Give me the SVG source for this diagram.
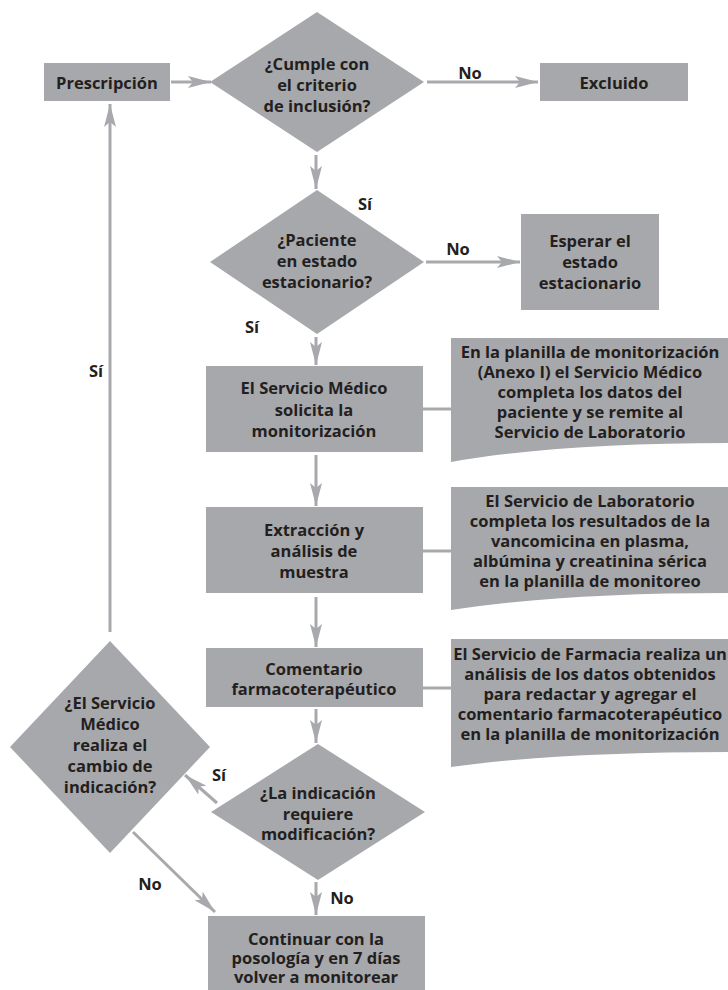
<svg xmlns="http://www.w3.org/2000/svg" width="728" height="990" viewBox="0 0 728 990">
<defs>
<style>
.shape{fill:#a7a8ab;stroke:none}
.t{font-family:"Open Sans","Noto Sans","Liberation Sans",sans-serif;font-weight:700;font-size:16.5px;fill:#231f20;text-anchor:middle;dominant-baseline:central}
.lbl{font-family:"Open Sans","Noto Sans","Liberation Sans",sans-serif;font-weight:700;font-size:16.5px;fill:#231f20;text-anchor:middle;dominant-baseline:central}
.c{stroke:#a7a9ac;stroke-width:3;fill:none}
.a{marker-end:url(#ah)}
</style>
<marker id="ah" markerUnits="userSpaceOnUse" markerWidth="24" markerHeight="12" viewBox="0 0 24 12" refX="23" refY="6" orient="auto">
<path d="M0,0 L23,6 L0,12 L5,6 Z" fill="#a7a9ac"/>
</marker>
</defs>
<rect width="728" height="990" fill="#ffffff"/>

<g id="connectors">
<line class="c a" x1="171" y1="82" x2="211" y2="82"/>
<line class="c a" x1="427" y1="82" x2="538" y2="82"/>
<line class="c a" x1="316" y1="155" x2="316" y2="189"/>
<line class="c a" x1="426" y1="262" x2="520" y2="262"/>
<line class="c a" x1="316" y1="337" x2="316" y2="365"/>
<line class="c a" x1="316" y1="455" x2="316" y2="506"/>
<line class="c a" x1="316" y1="597" x2="316" y2="647"/>
<line class="c a" x1="316" y1="709" x2="316" y2="743"/>
<line class="c a" x1="316" y1="882" x2="316" y2="915"/>
<line class="c a" x1="217" y1="803" x2="185" y2="775"/>
<line class="c a" x1="133" y1="832" x2="215" y2="912"/>
<line class="c a" x1="110" y1="632" x2="110" y2="104"/>
<line class="c" x1="423" y1="409" x2="451" y2="409"/>
<line class="c" x1="423" y1="551" x2="451" y2="551"/>
<line class="c" x1="423" y1="688" x2="451" y2="688"/>
<text class="lbl" x="470" y="72">No</text>
<text class="lbl" x="365" y="203">Sí</text>
<text class="lbl" x="458" y="248">No</text>
<text class="lbl" x="252" y="326">Sí</text>
<text class="lbl" x="96" y="370">Sí</text>
<text class="lbl" x="219" y="774">Sí</text>
<text class="lbl" x="150" y="883">No</text>
<text class="lbl" x="342" y="897">No</text>
</g>

<g id="prescripcion">
<rect class="shape" x="44" y="63" width="126" height="38"/>
<text class="t" x="107" y="82">Prescripción</text>
</g>

<g id="criterio">
<polygon class="shape" points="317,12 424,82 317,152 210,82"/>
<text class="t" x="317" y="63">¿Cumple con</text>
<text class="t" x="317" y="84">el criterio</text>
<text class="t" x="317" y="105">de inclusión?</text>
</g>

<g id="excluido">
<rect class="shape" x="540" y="63" width="148" height="38"/>
<text class="t" x="614" y="82">Excluido</text>
</g>

<g id="estacionario">
<polygon class="shape" points="317,190 424,262 317,334 210,262"/>
<text class="t" x="317" y="239">¿Paciente</text>
<text class="t" x="317" y="260">en estado</text>
<text class="t" x="317" y="281">estacionario?</text>
</g>

<g id="esperar">
<rect class="shape" x="521" y="214" width="138" height="96"/>
<text class="t" x="590" y="240">Esperar el</text>
<text class="t" x="590" y="261">estado</text>
<text class="t" x="590" y="282">estacionario</text>
</g>

<g id="solicita">
<rect class="shape" x="206" y="366" width="217" height="86"/>
<text class="t" x="314" y="387">El Servicio Médico</text>
<text class="t" x="314" y="409">solicita la</text>
<text class="t" x="314" y="430">monitorización</text>
</g>

<g id="doc1">
<path class="shape" d="M451,338 H728 V443 Q560,443 451,462 Z"/>
<text class="t" x="590" y="351">En la planilla de monitorización</text>
<text class="t" x="590" y="371">(Anexo I) el Servicio Médico</text>
<text class="t" x="590" y="391">completa los datos del</text>
<text class="t" x="590" y="411">paciente y se remite al</text>
<text class="t" x="590" y="431">Servicio de Laboratorio</text>
</g>

<g id="extraccion">
<rect class="shape" x="206" y="507" width="217" height="86"/>
<text class="t" x="314" y="529">Extracción y</text>
<text class="t" x="314" y="550">análisis de</text>
<text class="t" x="314" y="571">muestra</text>
</g>

<g id="doc2">
<path class="shape" d="M451,487 H728 V593 Q560,593 451,610 Z"/>
<text class="t" x="590" y="500">El Servicio de Laboratorio</text>
<text class="t" x="590" y="520">completa los resultados de la</text>
<text class="t" x="590" y="540">vancomicina en plasma,</text>
<text class="t" x="590" y="560">albúmina y creatinina sérica</text>
<text class="t" x="590" y="580">en la planilla de monitoreo</text>
</g>

<g id="comentario">
<rect class="shape" x="206" y="648" width="217" height="59"/>
<text class="t" x="314" y="668">Comentario</text>
<text class="t" x="314" y="688">farmacoterapéutico</text>
</g>

<g id="doc3">
<path class="shape" d="M451,639 H728 V752 Q560,752 451,767 Z"/>
<text class="t" x="590" y="653">El Servicio de Farmacia realiza un</text>
<text class="t" x="590" y="673">análisis de los datos obtenidos</text>
<text class="t" x="590" y="693">para redactar y agregar el</text>
<text class="t" x="590" y="713">comentario farmacoterapéutico</text>
<text class="t" x="590" y="733">en la planilla de monitorización</text>
</g>

<g id="cambio">
<polygon class="shape" points="110,641 210,747 110,853 10,747"/>
<text class="t" x="110" y="702">¿El Servicio</text>
<text class="t" x="110" y="723">Médico</text>
<text class="t" x="110" y="744">realiza el</text>
<text class="t" x="110" y="765">cambio de</text>
<text class="t" x="110" y="786">indicación?</text>
</g>

<g id="modificacion">
<polygon class="shape" points="318,744 425,812 318,880 211,812"/>
<text class="t" x="318" y="792">¿La indicación</text>
<text class="t" x="318" y="813">requiere</text>
<text class="t" x="318" y="833">modificación?</text>
</g>

<g id="continuar">
<rect class="shape" x="208" y="916" width="217" height="74"/>
<text class="t" x="316" y="938">Continuar con la</text>
<text class="t" x="316" y="957">posología y en 7 días</text>
<text class="t" x="316" y="976">volver a monitorear</text>
</g>
</svg>
